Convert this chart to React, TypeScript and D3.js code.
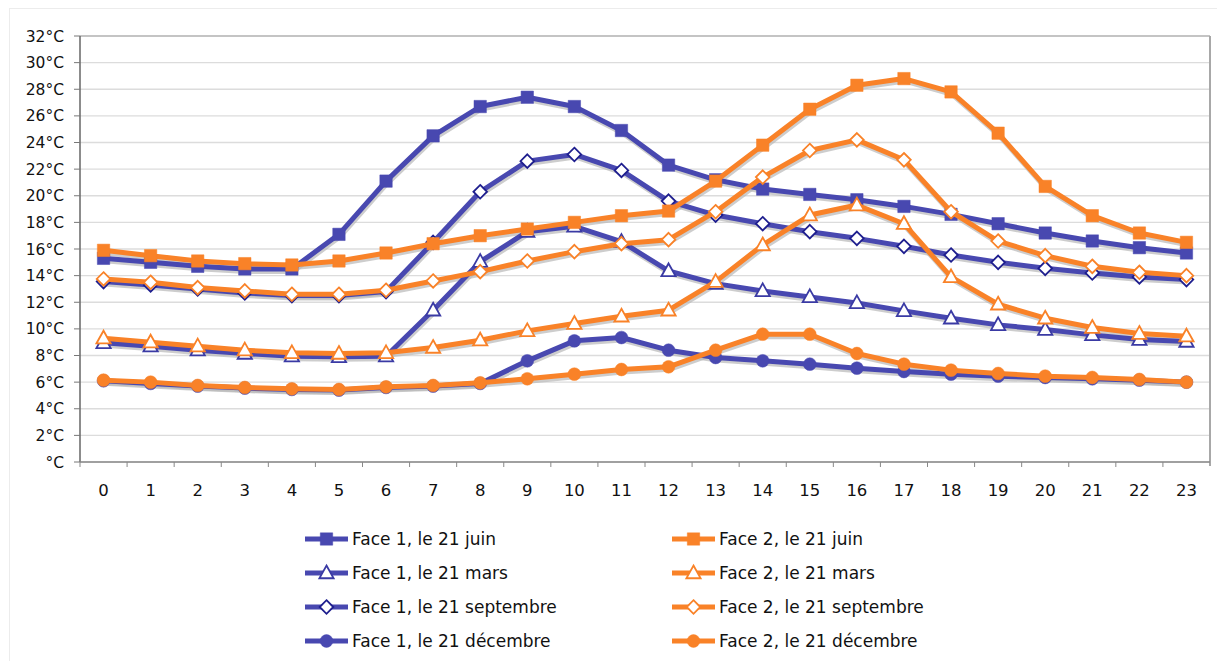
import React from "react";
import * as d3 from "d3";

const hours = d3.range(0, 24).map(String);
const yTicks = [0, 2, 4, 6, 8, 10, 12, 14, 16, 18, 20, 22, 24, 26, 28, 30, 32];

const f1Juin = [15.3, 15.0, 14.7, 14.5, 14.5, 17.1, 21.1, 24.5, 26.7, 27.4, 26.7, 24.9, 22.3, 21.2, 20.5, 20.1, 19.7, 19.2, 18.6, 17.9, 17.2, 16.6, 16.1, 15.7];
const f2Juin = [15.9, 15.5, 15.1, 14.9, 14.8, 15.1, 15.7, 16.4, 17.0, 17.5, 18.0, 18.5, 18.85, 21.1, 23.8, 26.5, 28.3, 28.8, 27.8, 24.7, 20.7, 18.5, 17.2, 16.5];
const f1Mars = [8.95, 8.7, 8.4, 8.15, 7.95, 7.9, 7.95, 11.4, 15.05, 17.3, 17.7, 16.55, 14.35, 13.4, 12.85, 12.4, 11.95, 11.35, 10.8, 10.3, 9.95, 9.55, 9.2, 9.05];
const f2Mars = [9.3, 9.0, 8.7, 8.4, 8.2, 8.15, 8.2, 8.6, 9.15, 9.85, 10.4, 10.95, 11.4, 13.55, 16.3, 18.55, 19.3, 17.9, 13.9, 11.85, 10.8, 10.1, 9.65, 9.45];
const f1Sept = [13.55, 13.3, 13.0, 12.7, 12.5, 12.5, 12.8, 16.5, 20.3, 22.6, 23.1, 21.9, 19.6, 18.55, 17.9, 17.3, 16.8, 16.2, 15.55, 15.0, 14.55, 14.2, 13.9, 13.7];
const f2Sept = [13.75, 13.5, 13.1, 12.85, 12.6, 12.6, 12.9, 13.6, 14.3, 15.1, 15.8, 16.4, 16.7, 18.8, 21.4, 23.4, 24.2, 22.7, 18.8, 16.6, 15.5, 14.7, 14.25, 14.0];
const f1Dec = [6.1, 5.9, 5.7, 5.55, 5.45, 5.4, 5.6, 5.7, 5.9, 7.6, 9.1, 9.35, 8.4, 7.85, 7.6, 7.35, 7.05, 6.8, 6.6, 6.45, 6.35, 6.25, 6.15, 6.0];
const f2Dec = [6.15, 6.0, 5.75, 5.6, 5.5, 5.45, 5.65, 5.75, 5.95, 6.25, 6.6, 6.95, 7.15, 8.4, 9.6, 9.6, 8.15, 7.35, 6.9, 6.65, 6.45, 6.35, 6.2, 6.0];

const BLUE = "#4848b0";
const ORANGE = "#f98228";
const NAVY = "#1e1e8e";

type Shape = "square" | "triangle" | "diamond" | "circle";
interface Series { name: string; values: number[]; color: string; shape: Shape; stroke: string; fill: string; }

const series: Series[] = [
  { name: "Face 1, le 21 juin", values: f1Juin, color: BLUE, shape: "square", stroke: BLUE, fill: BLUE },
  { name: "Face 1, le 21 mars", values: f1Mars, color: BLUE, shape: "triangle", stroke: "#3a3aa4", fill: "#ffffff" },
  { name: "Face 1, le 21 septembre", values: f1Sept, color: BLUE, shape: "diamond", stroke: NAVY, fill: "#ffffff" },
  { name: "Face 1, le 21 décembre", values: f1Dec, color: BLUE, shape: "circle", stroke: BLUE, fill: BLUE },
  { name: "Face 2, le 21 juin", values: f2Juin, color: ORANGE, shape: "square", stroke: ORANGE, fill: ORANGE },
  { name: "Face 2, le 21 mars", values: f2Mars, color: ORANGE, shape: "triangle", stroke: ORANGE, fill: "#ffffff" },
  { name: "Face 2, le 21 septembre", values: f2Sept, color: ORANGE, shape: "diamond", stroke: ORANGE, fill: "#ffffff" },
  { name: "Face 2, le 21 décembre", values: f2Dec, color: ORANGE, shape: "circle", stroke: ORANGE, fill: ORANGE },
];

function markerPath(shape: Shape, cx: number, cy: number): string {
  const p = d3.path();
  if (shape === "square") {
    const s = 6.2;
    p.rect(cx - s, cy - s, 2 * s, 2 * s);
  } else if (shape === "triangle") {
    const r = 7.5;
    p.moveTo(cx, cy - r);
    p.lineTo(cx + r * 0.95, cy + r * 0.7);
    p.lineTo(cx - r * 0.95, cy + r * 0.7);
    p.closePath();
  } else if (shape === "diamond") {
    const r = 6.8;
    p.moveTo(cx, cy - r);
    p.lineTo(cx + r, cy);
    p.lineTo(cx, cy + r);
    p.lineTo(cx - r, cy);
    p.closePath();
  } else {
    p.arc(cx, cy, 6.4, 0, Math.PI * 2);
  }
  return p.toString();
}

export default function App() {
  const W = 1217, H = 661;
  const left = 80, right = 1210, top = 36, bottom = 462;
  const x = d3.scaleBand<string>().domain(hours).range([left, right]);
  const y = d3.scaleLinear().domain([0, 32]).range([bottom, top]);
  const cx = (i: number) => (x(hours[i]) as number) + x.bandwidth() / 2;
  const line = d3.line<number>().x((_, i) => cx(i)).y((v) => y(v));
  const font = "'DejaVu Sans', sans-serif";

  const legendCols = [305, 672];
  const legendRows = [539, 573, 607, 641];

  return (
    <svg width={W} height={H} style={{ position: "absolute", left: 0, top: 0, background: "#fff" }}>
      <rect x={9.5} y={8.5} width={W} height={H} fill="#fff" stroke="#ececec" />
      {/* grid */}
      {yTicks.map((t) => (
        <line key={"g" + t} x1={left} x2={right} y1={y(t)} y2={y(t)} stroke={t === 32 ? "#b0b0b0" : "#dcdcdc"} strokeWidth={1.3} />
      ))}
      <line x1={right} x2={right} y1={top} y2={bottom + 4} stroke="#a8a8a8" strokeWidth={2} />
      {/* y axis */}
      <line x1={left} x2={left} y1={top} y2={bottom} stroke="#666" strokeWidth={1.5} />
      {yTicks.map((t) => (
        <g key={"yt" + t}>
          <line x1={left - 6} x2={left} y1={y(t)} y2={y(t)} stroke="#777" strokeWidth={1} />
          <text x={64} y={y(t)} dy="0.36em" textAnchor="end" fontFamily={font} fontSize={15.5} fill="#111">
            {t === 0 ? "°C" : `${t}°C`}
          </text>
        </g>
      ))}
      {/* x axis */}
      <line x1={left} x2={right} y1={bottom} y2={bottom} stroke="#888" strokeWidth={1.5} />
      {hours.map((h, i) => (
        <g key={"xt" + h}>
          <line x1={(x(h) as number)} x2={(x(h) as number)} y1={bottom} y2={bottom + 5} stroke="#888" strokeWidth={1} />
          <text x={cx(i)} y={496} textAnchor="middle" fontFamily={font} fontSize={16.5} fill="#111">{h}</text>
        </g>
      ))}
      {/* shadows */}
      {series.map((s) => (
        <path key={"sh" + s.name} d={line(s.values) || ""} transform="translate(1,2.5)" fill="none" stroke="#b8b8b8" strokeOpacity={0.7} strokeWidth={5} strokeLinejoin="round" />
      ))}
      {/* lines and markers */}
      {series.map((s) => (
        <g key={"s" + s.name}>
          <path d={line(s.values) || ""} fill="none" stroke={s.color} strokeWidth={5} strokeLinejoin="round" />
          {s.values.map((v, i) => (
            <path key={i} d={markerPath(s.shape, cx(i), y(v))} fill={s.fill} stroke={s.stroke} strokeWidth={s.fill === "#ffffff" ? 1.8 : 0.5} />
          ))}
        </g>
      ))}
      {/* legend */}
      {series.map((s, k) => {
        const col = k < 4 ? 0 : 1;
        const row = k % 4;
        const lx = legendCols[col];
        const ly = legendRows[row];
        return (
          <g key={"lg" + s.name}>
            <line x1={lx} x2={lx + 43} y1={ly} y2={ly} stroke={s.color} strokeWidth={5} />
            <path d={markerPath(s.shape, lx + 21.5, ly)} fill={s.fill} stroke={s.stroke} strokeWidth={s.fill === "#ffffff" ? 1.8 : 0.5} />
            <text x={lx + 47} y={ly} dy="0.36em" fontFamily={font} fontSize={17} fill="#111">{s.name}</text>
          </g>
        );
      })}
    </svg>
  );
}
